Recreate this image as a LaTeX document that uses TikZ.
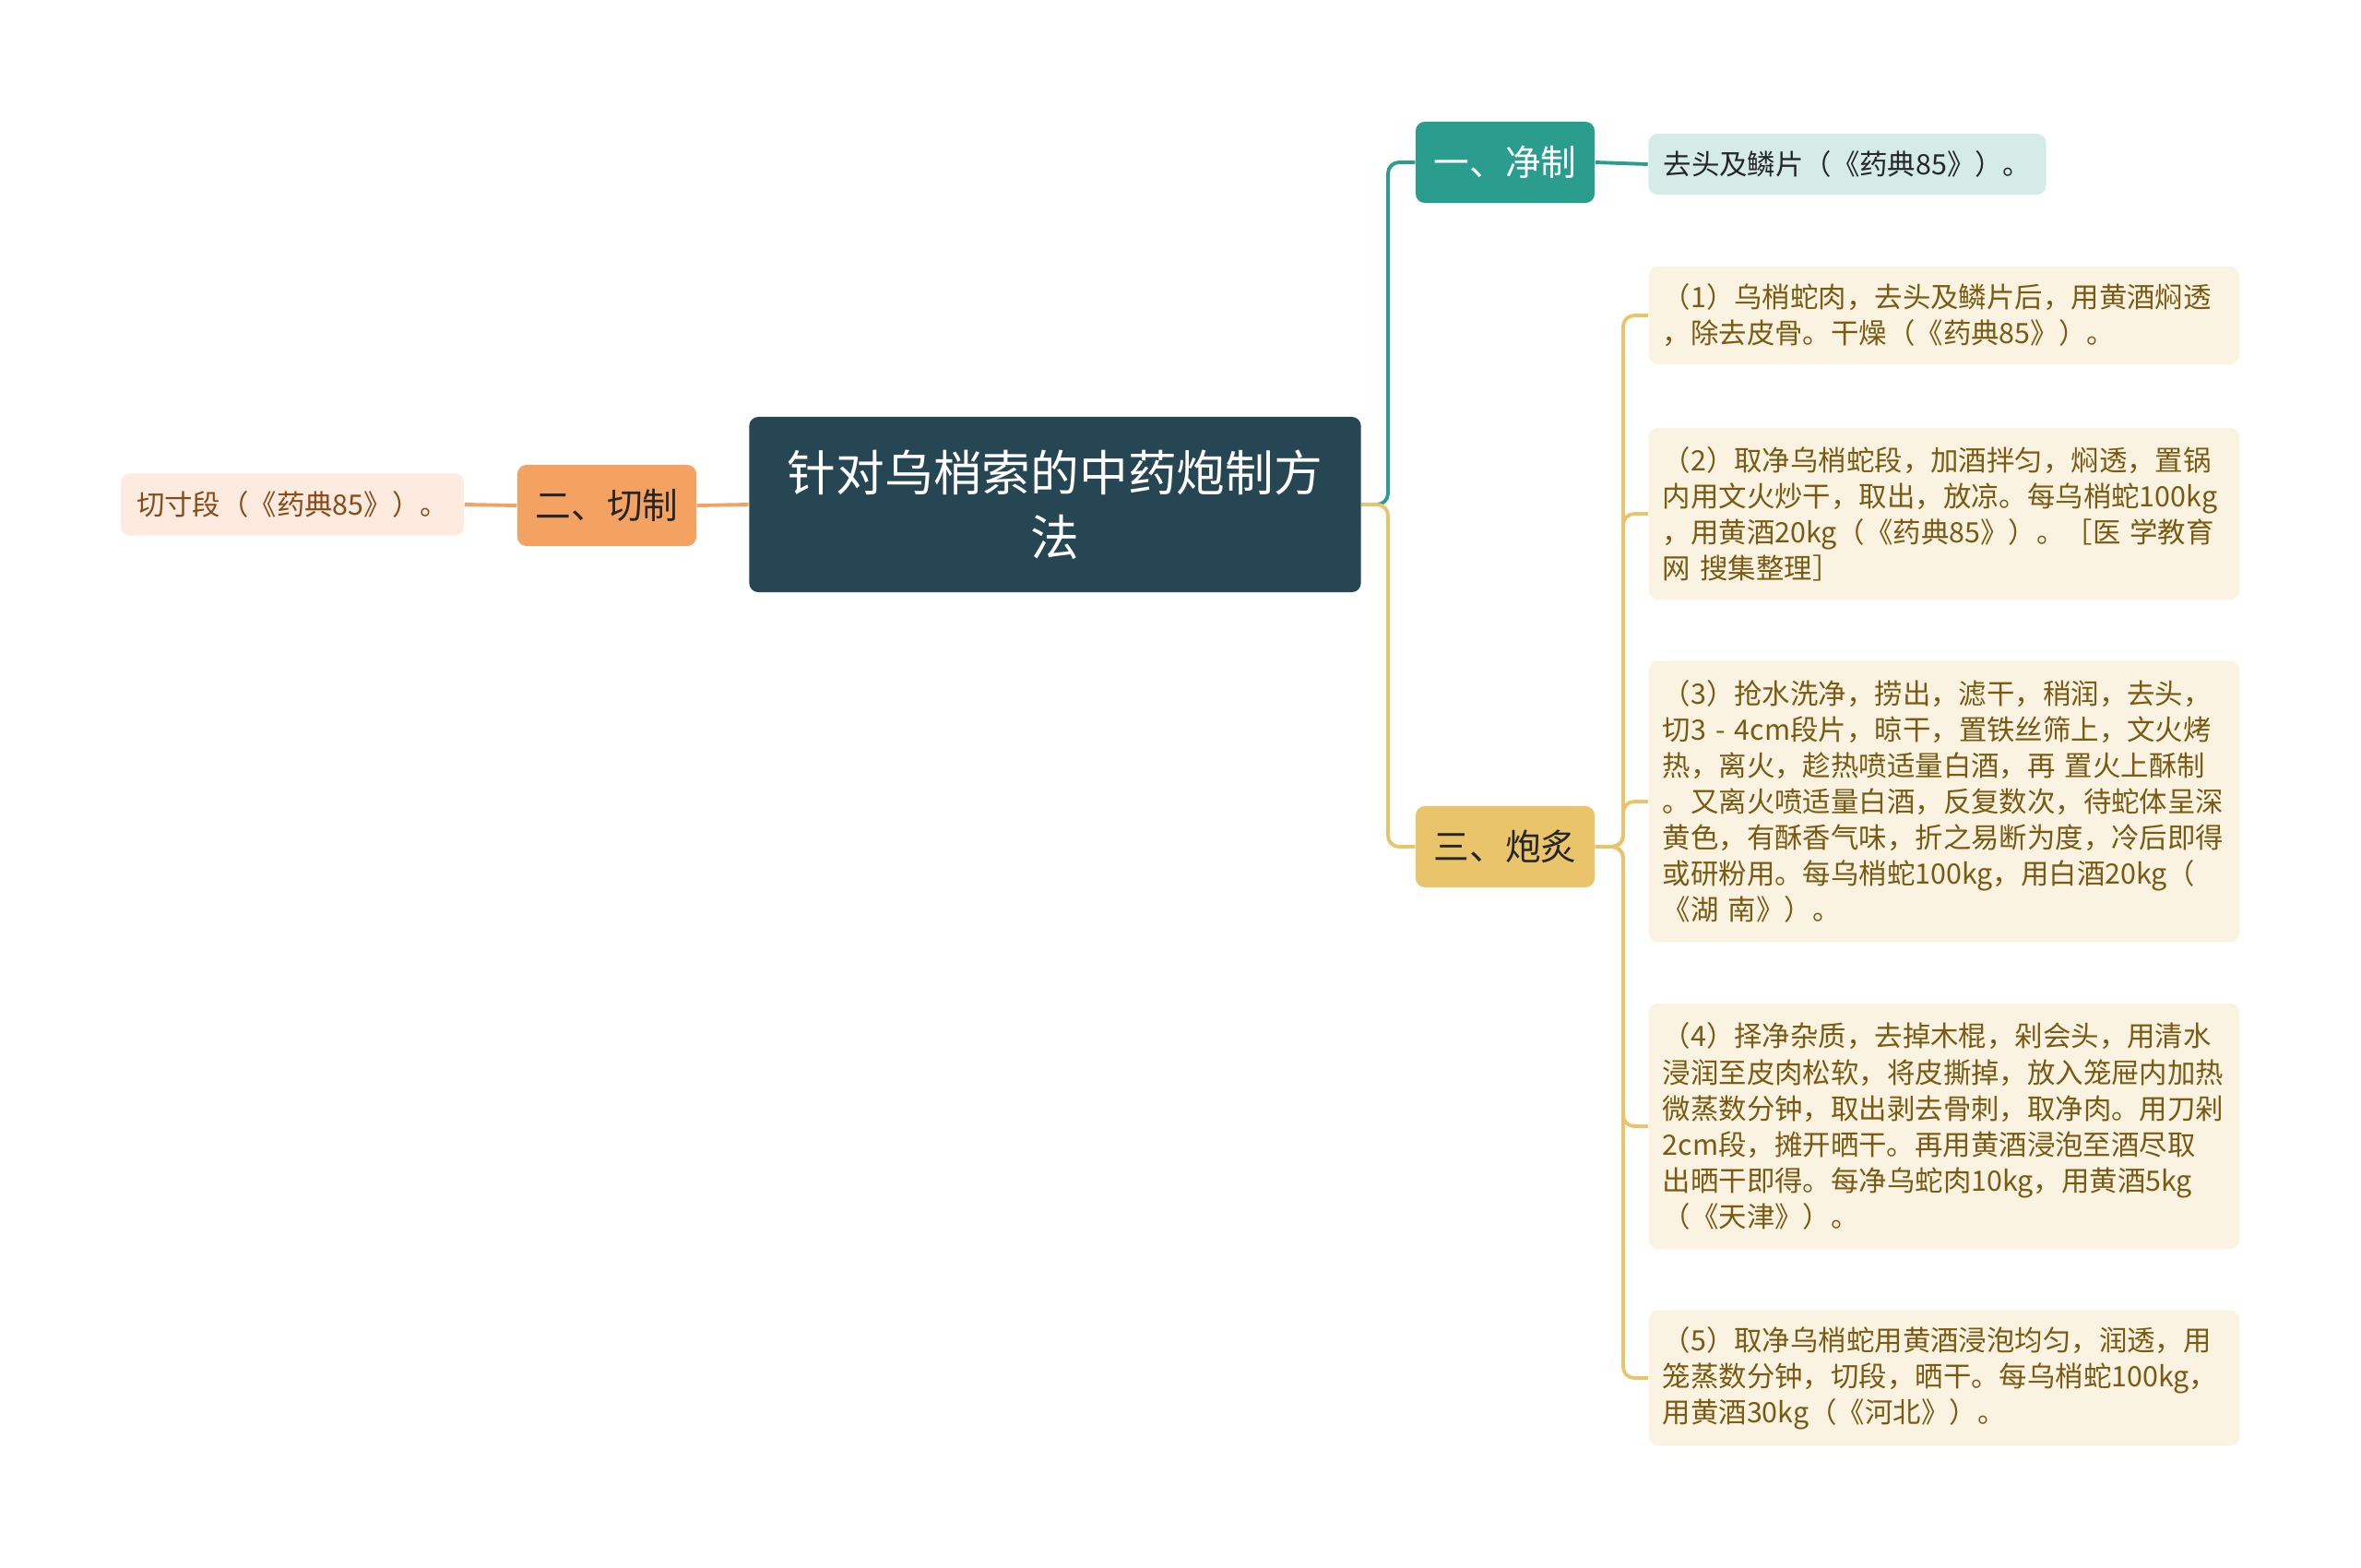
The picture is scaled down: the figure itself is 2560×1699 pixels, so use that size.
\documentclass[tikz,border=0pt]{standalone}
\usepackage{fontspec}
\setmainfont{Noto Sans CJK SC}
\definecolor{rootfill}{HTML}{264653}
\definecolor{tealc}{HTML}{2A9D8F}
\definecolor{orangec}{HTML}{F4A261}
\definecolor{yellowc}{HTML}{E9C46A}
\definecolor{tealleaf}{HTML}{D5EBE8}
\definecolor{peachleaf}{HTML}{FDEBDF}
\definecolor{creamleaf}{HTML}{FBF3E1}
\definecolor{browntext}{HTML}{7A5A12}
\definecolor{rusttext}{HTML}{8A4A16}
\begin{document}
\begin{tikzpicture}[
                    x=0.01cm, y=-0.01cm,
                    topic/.style={rounded corners=0.1cm, inner sep=0pt, align=center},
                    branch/.style={topic, minimum width=1.94cm, minimum height=0.88cm, font=\fontsize{11pt}{13pt}\selectfont},
                    leaf/.style={rounded corners=0.1cm, inner xsep=0.15cm, inner ysep=0pt, font=\fontsize{8.65pt}{11.1pt}\selectfont},
                    bigleaf/.style={leaf, fill=creamleaf, text=browntext, text width=6.1cm, align=left},
                    link/.style={line width=1.1pt, rounded corners=0.12cm}
                    ]
    \useasboundingbox (0,0) rectangle (2560,1699);

    \coordinate (rootout) at (1505,547);
    \coordinate (paoout) at (1760,918);

    % centre
    \node [topic, fill=rootfill, text=white, minimum width=6.63cm, minimum height=1.9cm,
           font=\fontsize{15pt}{20pt}\selectfont] (root) at (1144,547) {针对乌梢索的中药炮制方\\法};

    % branches
    \node [branch, fill=tealc, text=white] (jingzhi) at (1632,176) {一、净制};
    \node [branch, fill=orangec, text=black!85] (qiezhi) at (658,548) {二、切制};
    \node [branch, fill=yellowc, text=black!85] (paozhi) at (1632,918) {三、炮炙};

    % leaves
    \node [leaf, fill=tealleaf, text=black!85, minimum width=4.31cm, minimum height=0.66cm] (qutou) at (2003,178) {去头及鳞片（《药典85》）。};
    \node [leaf, fill=peachleaf, text=rusttext, minimum width=3.72cm, minimum height=0.67cm] (qieduan) at (317,547) {切寸段（《药典85》）。};

    \node [bigleaf, minimum height=1.06cm] (p1) at (2108,342) {（1）乌梢蛇肉，去头及鳞片后，用黄酒焖透\\，除去皮骨。干燥（《药典85》）。};
    \node [bigleaf, minimum height=1.86cm] (p2) at (2108,557) {（2）取净乌梢蛇段，加酒拌匀，焖透，置锅\\内用文火炒干，取出，放凉。每乌梢蛇100kg\\，用黄酒20kg（《药典85》）。［医 学教育\\网 搜集整理］};
    \node [bigleaf, minimum height=3.05cm] (p3) at (2108,869) {（3）抢水洗净，捞出，滤干，稍润，去头，\\切3 - 4cm段片，晾干，置铁丝筛上，文火烤\\热，离火，趁热喷适量白酒，再 置火上酥制\\。又离火喷适量白酒，反复数次，待蛇体呈深\\黄色，有酥香气味，折之易断为度，冷后即得\\或研粉用。每乌梢蛇100kg，用白酒20kg（\\《湖 南》）。};
    \node [bigleaf, minimum height=2.66cm] (p4) at (2108,1221) {（4）择净杂质，去掉木棍，剁会头，用清水\\浸润至皮肉松软，将皮撕掉，放入笼屉内加热\\微蒸数分钟，取出剥去骨刺，取净肉。用刀剁\\2cm段，摊开晒干。再用黄酒浸泡至酒尽取\\出晒干即得。每净乌蛇肉10kg，用黄酒5kg\\（《天津》）。};
    \node [bigleaf, minimum height=1.47cm] (p5) at (2108,1494) {（5）取净乌梢蛇用黄酒浸泡均匀，润透，用\\笼蒸数分钟，切段，晒干。每乌梢蛇100kg，\\用黄酒30kg（《河北》）。};

    \draw [link, tealc] (root.east) -- (rootout) |- (jingzhi.west);
    \draw [link, yellowc] (root.east) -- (rootout) |- (paozhi.west);
    \draw [link, tealc] (jingzhi.east) -- (qutou.west);
    \draw [link, orangec] (root.west) -- (qiezhi.east);
    \draw [link, orangec] (qiezhi.west) -- (qieduan.east);
    \foreach \p in {p1,p2,p3,p4,p5}
        \draw [link, yellowc] (paozhi.east) -- (paoout) |- (\p.west);
\end{tikzpicture}
\end{document}
